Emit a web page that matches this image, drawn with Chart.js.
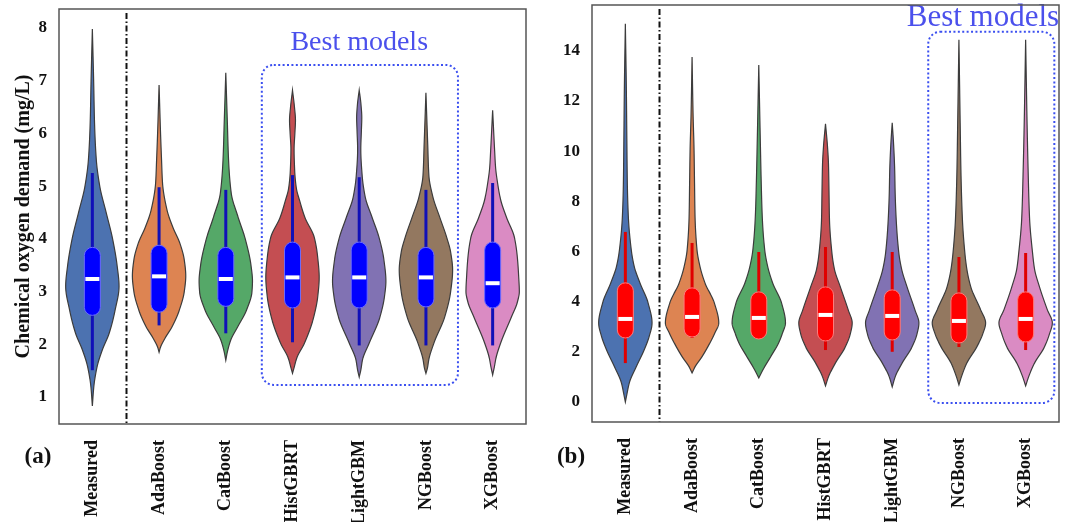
<!DOCTYPE html>
<html>
<head>
<meta charset="utf-8">
<script src="https://cdn.jsdelivr.net/npm/chart.js@4"></script>
<style>
  body { margin: 0; background: #fff; }
  #wrap { position: relative; width: 1070px; height: 522px; overflow: hidden; }
  #chartA { position: absolute; left: 0; top: 0; }
  #chartB { position: absolute; left: 530px; top: 0; }
</style>
</head>
<body>
<div id="wrap">
  <canvas id="chartA" width="530" height="522"></canvas>
  <canvas id="chartB" width="540" height="522"></canvas>
</div>
<script>
const models = ['Measured', 'AdaBoost', 'CatBoost', 'HistGBRT', 'LightGBM', 'NGBoost', 'XGBoost'];
const violinColors = ['#4C72B0', '#DD8452', '#55A868', '#C44E52', '#8172B3', '#937860', '#DA8BC3'];

// (a) COD levels (mg/L) along each violin and the kernel density at those levels
const codLevelsA = [
  [0.83, 1.2, 1.57, 1.89, 2.21, 2.65, 3.1, 3.5, 4.0, 4.5, 5.0, 5.5, 6.2, 7.0, 7.98],
  [1.85, 1.95, 2.1, 2.33, 2.65, 3.0, 3.3, 3.6, 3.92, 4.22, 4.55, 5.06, 5.5, 6.0, 6.92],
  [1.70, 1.85, 2.08, 2.33, 2.65, 3.0, 3.2, 3.5, 3.98, 4.41, 4.87, 5.5, 6.2, 7.15],
  [1.45, 1.55, 1.75, 2.02, 2.52, 2.9, 3.27, 3.65, 4.03, 4.41, 4.74, 4.95, 5.3, 5.7, 6.0, 6.25, 6.5, 6.82],
  [1.38, 1.5, 1.72, 2.02, 2.52, 2.9, 3.2, 3.6, 4.03, 4.41, 4.8, 5.2, 5.7, 6.05, 6.3, 6.55, 6.82],
  [1.45, 1.55, 1.72, 2.02, 2.52, 3.0, 3.41, 3.75, 4.03, 4.41, 4.8, 5.2, 5.8, 6.77],
  [1.42, 1.55, 1.75, 2.02, 2.52, 2.8, 3.0, 3.3, 3.65, 4.03, 4.41, 4.75, 5.06, 5.35, 5.68, 6.44]
];
const codDensityA = [
  [0, 1.5, 4.7, 10, 17, 23, 27, 25, 20.5, 14, 7.5, 4, 2.2, 1.3, 0],
  [0, 1.5, 5.5, 13, 20.5, 25.5, 27, 25.5, 21, 14, 8, 3.5, 2.5, 1.5, 0],
  [0, 1.5, 5, 12, 21, 26.5, 27, 25.5, 20, 12.5, 5.5, 2.8, 1.6, 0],
  [0, 1.5, 4.5, 12, 21.5, 25.5, 27, 25.5, 22, 12.5, 7, 4, 2.2, 1.6, 2.4, 3, 2, 0],
  [0, 1.5, 3.5, 10, 21, 25.5, 27, 25, 20, 13, 6, 3, 1.6, 2.2, 2.6, 1.8, 0],
  [0, 1.5, 3, 8, 19, 25, 27, 25, 21, 14, 7, 3, 1.8, 0],
  [0, 1.5, 3.5, 8, 19, 25, 27, 26.3, 25, 22, 14, 8, 5, 3, 2, 0]
];
// whisker low, Q1, median, Q3, whisker high
const codBoxA = [
  [1.51, 2.55, 3.24, 3.84, 5.25],
  [2.36, 2.61, 3.29, 3.88, 4.98],
  [2.21, 2.72, 3.24, 3.84, 4.93],
  [2.04, 2.69, 3.27, 3.94, 5.21],
  [1.98, 2.69, 3.27, 3.94, 5.17],
  [1.98, 2.71, 3.27, 3.84, 4.93],
  [1.98, 2.69, 3.16, 3.94, 5.06]
];
const yTicksA = [1, 2, 3, 4, 5, 6, 7, 8];

// (b)
const codLevelsB = [
  [0, 0.3, 0.76, 1.4, 2.07, 2.6, 3.15, 3.95, 4.75, 5.4, 6.06, 7.4, 8.7, 10.5, 12.5, 15.08],
  [1.16, 1.4, 1.8, 2.35, 2.75, 3.15, 3.95, 4.75, 5.4, 6.06, 7.4, 8.7, 10.05, 11.5, 13.76],
  [0.96, 1.27, 1.8, 2.35, 2.75, 3.15, 3.95, 4.75, 5.4, 6.06, 7.4, 8.7, 10.5, 13.44],
  [0.64, 1.0, 1.55, 2.19, 2.7, 3.15, 3.67, 4.59, 5.3, 5.94, 7.3, 8.5, 9.5, 10.2, 11.09],
  [0.6, 1.0, 1.55, 2.19, 2.7, 3.15, 3.67, 4.59, 5.3, 5.94, 7.3, 8.3, 9.25, 10.2, 11.13],
  [0.68, 1.0, 1.55, 2.19, 2.7, 3.15, 3.67, 4.59, 5.3, 5.94, 7.3, 9.25, 11, 14.44],
  [0.64, 1.0, 1.55, 2.19, 2.7, 3.15, 3.67, 4.59, 5.3, 5.94, 7.3, 9.25, 11, 14.44]
];
const codDensityB = [
  [0, 1.5, 4, 11, 19, 24, 27, 23, 14.7, 9, 6, 3, 2, 1.5, 1, 0],
  [0, 3, 10, 18, 23, 27, 22.5, 13, 8, 5, 3, 2.5, 2, 1, 0],
  [0, 4, 12, 20, 24, 27, 23, 14, 9, 6, 3.5, 2.5, 1.5, 0],
  [0, 3, 10, 20, 25, 27, 23, 15, 9, 6.5, 4, 3.5, 3, 2, 0],
  [0, 3, 10, 20, 25, 27, 23, 15, 9.5, 6.7, 4, 3, 2.5, 1.5, 0],
  [0, 2.5, 8, 18, 24, 27, 22, 12, 8, 6, 3.5, 2, 1.3, 0],
  [0, 3, 9, 19, 24, 27, 22, 14, 9, 7, 4, 2.5, 1.5, 0]
];
const codBoxB = [
  [1.55, 2.55, 3.31, 4.75, 6.78],
  [2.55, 2.59, 3.39, 4.55, 6.34],
  [2.51, 2.51, 3.35, 4.39, 5.98],
  [2.07, 2.43, 3.47, 4.59, 6.18],
  [2.0, 2.47, 3.43, 4.47, 5.98],
  [2.19, 2.35, 3.23, 4.35, 5.78],
  [2.07, 2.39, 3.31, 4.39, 5.94]
];
const yTicksB = [0, 2, 4, 6, 8, 10, 12, 14];

const serif = 'Liberation Serif';

// monotone cubic (PCHIP) through the density points, so the outline never overshoots
function pchip(xs, ys) {
  const n = xs.length;
  const h = [], d = [], m = new Array(n).fill(0);
  for (let k = 0; k < n - 1; k++) {
    h.push(xs[k + 1] - xs[k]);
    d.push((ys[k + 1] - ys[k]) / h[k]);
  }
  m[0] = d[0];
  m[n - 1] = d[n - 2];
  for (let k = 1; k < n - 1; k++) {
    if (d[k - 1] * d[k] <= 0) { m[k] = 0; continue; }
    const w1 = 2 * h[k] + h[k - 1], w2 = h[k] + 2 * h[k - 1];
    m[k] = (w1 + w2) / (w1 / d[k - 1] + w2 / d[k]);
  }
  return v => {
    let k = 0;
    while (k < n - 2 && v > xs[k + 1]) k++;
    const t = Math.min(Math.max((v - xs[k]) / h[k], 0), 1);
    const t2 = t * t, t3 = t2 * t;
    return (2 * t3 - 3 * t2 + 1) * ys[k] + (t3 - 2 * t2 + t) * h[k] * m[k]
      + (-2 * t3 + 3 * t2) * ys[k + 1] + (t3 - t2) * h[k] * m[k + 1];
  };
}

const violinPlugin = {
  id: 'violins',
  afterDatasetsDraw(chart, args, opts) {
    const { ctx, chartArea: area, scales: { x, y } } = chart;
    const step = x.getPixelForValue(1) - x.getPixelForValue(0);
    const half = step * 0.4;
    ctx.save();

    // separator between measured data and the models
    const sx = Math.round(x.getPixelForValue(0.5)) + 0.5;
    ctx.strokeStyle = '#111';
    ctx.lineWidth = 2;
    ctx.setLineDash([6, 2.5, 1.5, 2.5]);
    ctx.beginPath();
    ctx.moveTo(sx, area.top + 4);
    ctx.lineTo(sx, area.bottom);
    ctx.stroke();
    ctx.setLineDash([]);

    opts.levels.forEach((lv, i) => {
      const dens = opts.density[i];
      const peak = Math.max(...dens);
      const width = pchip(lv, dens);
      const cx = x.getPixelForValue(i);
      const yTop = y.getPixelForValue(lv[lv.length - 1]);
      const yBot = y.getPixelForValue(lv[0]);
      const pts = [];
      for (let py = yTop; py < yBot; py += 0.5) {
        pts.push([py, Math.max(width(y.getValueForPixel(py)), 0) / peak * half]);
      }
      pts.push([yBot, 0]);
      ctx.beginPath();
      pts.forEach(([py, w], k) => k ? ctx.lineTo(cx + w, py) : ctx.moveTo(cx + w, py));
      for (let k = pts.length - 1; k >= 0; k--) ctx.lineTo(cx - pts[k][1], pts[k][0]);
      ctx.closePath();
      ctx.fillStyle = violinColors[i];
      ctx.fill();
      ctx.strokeStyle = '#3c3c3c';
      ctx.lineWidth = 1.2;
      ctx.stroke();

      const [wLo, q1, med, q3, wHi] = opts.box[i];
      ctx.strokeStyle = opts.whiskerColor;
      ctx.lineWidth = 3;
      ctx.beginPath();
      ctx.moveTo(cx, y.getPixelForValue(wLo));
      ctx.lineTo(cx, y.getPixelForValue(wHi));
      ctx.stroke();

      const top = y.getPixelForValue(q3), bot = y.getPixelForValue(q1);
      ctx.fillStyle = opts.boxColor;
      ctx.strokeStyle = opts.boxEdge;
      ctx.lineWidth = 1;
      ctx.beginPath();
      ctx.roundRect(cx - 8, top, 16, bot - top, 8);
      ctx.fill();
      ctx.stroke();

      const my = y.getPixelForValue(med);
      ctx.fillStyle = '#fff';
      ctx.fillRect(cx - 7, my - 2, 14, 4);
    });

    // best models frame and caption
    const b = opts.best;
    const bx0 = x.getPixelForValue(b.from), bx1 = x.getPixelForValue(b.to);
    const by0 = y.getPixelForValue(b.high), by1 = y.getPixelForValue(b.low);
    ctx.strokeStyle = '#3b4ff0';
    ctx.lineWidth = 2;
    ctx.setLineDash([2, 2.4]);
    ctx.beginPath();
    ctx.roundRect(bx0, by0, bx1 - bx0, by1 - by0, 12);
    ctx.stroke();
    ctx.setLineDash([]);
    ctx.fillStyle = '#4b50ec';
    ctx.font = `${b.fontSize}px "${serif}"`;
    ctx.textAlign = 'center';
    ctx.textBaseline = 'middle';
    ctx.fillText('Best models', x.getPixelForValue(b.textAt), y.getPixelForValue(b.textY));

    // plot frame
    ctx.strokeStyle = '#555';
    ctx.lineWidth = 1.5;
    ctx.strokeRect(area.left, area.top, area.right - area.left, area.bottom - area.top);

    // panel tag
    ctx.fillStyle = '#111';
    ctx.font = `bold 23px "${serif}"`;
    ctx.fillText(opts.tag, area.left - 21, 457);
    ctx.restore();
  }
};

function makeChart(id, cfg) {
  return new Chart(document.getElementById(id), {
    type: 'bar',
    data: { labels: models, datasets: [] },
    plugins: [violinPlugin],
    options: {
      responsive: false,
      animation: false,
      devicePixelRatio: 1,
      layout: { padding: { top: cfg.padTop, right: cfg.padRight, left: 0, bottom: 0 } },
      plugins: {
        legend: { display: false },
        tooltip: { enabled: false },
        violins: {
          levels: cfg.levels, density: cfg.density, box: cfg.box,
          boxColor: cfg.boxColor, boxEdge: cfg.boxEdge, whiskerColor: cfg.whiskerColor,
          best: cfg.best, tag: cfg.tag
        }
      },
      scales: {
        x: {
          type: 'category',
          offset: true,
          grid: { display: false, drawTicks: false },
          border: { display: false },
          ticks: {
            autoSkip: false, maxRotation: 90, minRotation: 90, padding: 16,
            color: '#111', font: { family: serif, weight: 'bold', size: 18 }
          },
          afterFit: s => { s.height = cfg.xHeight; s.paddingLeft = 0; s.paddingRight = 0; }
        },
        y: {
          min: cfg.yMin, max: cfg.yMax,
          grid: { display: false, drawTicks: false },
          border: { display: false },
          ticks: { padding: 12, color: '#111', font: { family: serif, weight: 'bold', size: 17 } },
          afterBuildTicks: s => { s.ticks = cfg.yTicks.map(v => ({ value: v })); },
          afterFit: s => { s.width = cfg.yWidth; s.paddingTop = 0; s.paddingBottom = 0; },
          title: {
            display: cfg.yTitle !== '',
            text: cfg.yTitle,
            color: '#111',
            padding: { top: 12, bottom: 0 },
            font: { family: serif, weight: 'bold', size: 20 }
          }
        }
      }
    }
  });
}

makeChart('chartA', {
  levels: codLevelsA, density: codDensityA, box: codBoxA, yTicks: yTicksA,
  yMin: 0.49, yMax: 8.36, padTop: 9, padRight: 4, yWidth: 59, xHeight: 98,
  boxColor: '#0000ff', boxEdge: '#6a6aff', whiskerColor: '#1010b8',
  yTitle: 'Chemical oxygen demand (mg/L)', tag: '(a)',
  best: { from: 2.54, to: 5.48, low: 1.23, high: 7.30, textAt: 4, textY: 7.72, fontSize: 28 }
});

makeChart('chartB', {
  levels: codLevelsB, density: codDensityB, box: codBoxB, yTicks: yTicksB,
  yMin: -0.8, yMax: 15.83, padTop: 5, padRight: 11, yWidth: 62, xHeight: 100,
  boxColor: '#ff0000', boxEdge: '#ff7a7a', whiskerColor: '#e00000',
  yTitle: '', tag: '(b)',
  best: { from: 4.54, to: 6.43, low: -0.04, high: 14.76, textAt: 5.36, textY: 15.3, fontSize: 31 }
});
</script>
</body>
</html>
